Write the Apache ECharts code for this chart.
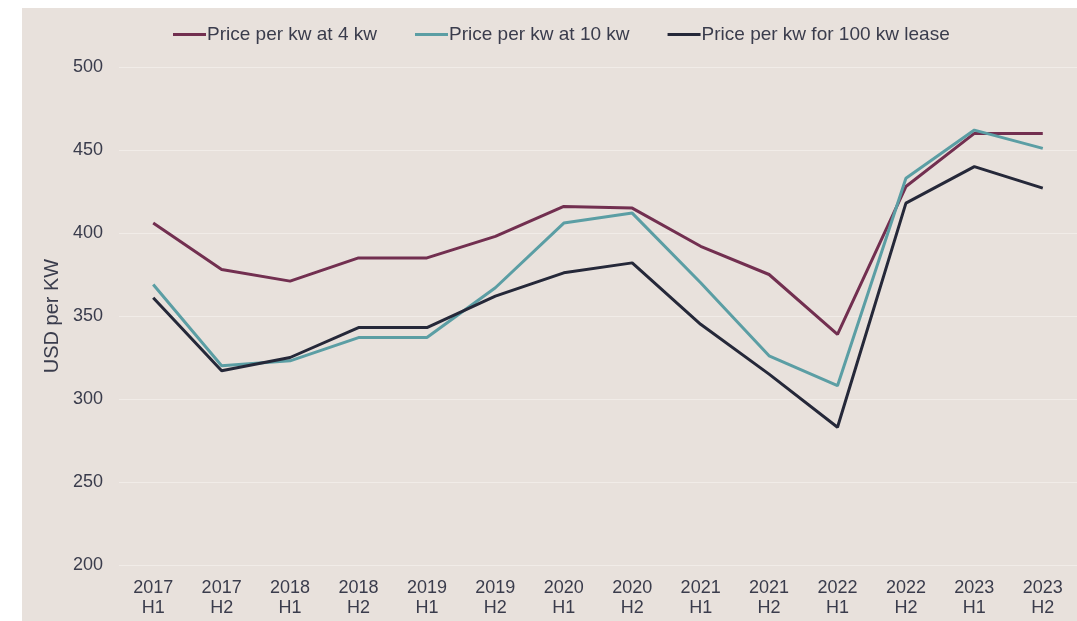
<!DOCTYPE html>
<html>
<head>
<meta charset="utf-8">
<script src="https://cdn.jsdelivr.net/npm/echarts@6/dist/echarts.min.js"></script>
<style>
  html, body { margin: 0; padding: 0; background: #ffffff; }
  #main { position: absolute; left: 22px; top: 8px; width: 1055px; height: 613px; }
</style>
</head>
<body>
<div id="main"></div>
<script>
var chartDom = document.getElementById("main");
var myChart = echarts.init(chartDom);
var option;

const categories = [
  "2017\nH1", "2017\nH2", "2018\nH1", "2018\nH2", "2019\nH1", "2019\nH2", "2020\nH1",
  "2020\nH2", "2021\nH1", "2021\nH2", "2022\nH1", "2022\nH2", "2023\nH1", "2023\nH2",
];
const price4kw = [406, 378, 371, 385, 385, 398, 416, 415, 392, 375, 339, 428, 460, 460];
const price10kw = [369, 320, 323, 337, 337, 367, 406, 412, 370, 326, 308, 433, 462, 451];
const price100kwLease = [361, 317, 325, 343, 343, 362, 376, 382, 345, 315, 283, 418, 440, 427];

const textColor = "#3a3c4c";
const font = "Liberation Sans, Arial, sans-serif";

function lineSeries(name, color, data) {
  return {
    name: name,
    type: "line",
    data: data,
    symbol: "none",
    lineStyle: { color: color, width: 3 },
    itemStyle: { color: color },
  };
}

option = {
  backgroundColor: "#e8e1dc",
  color: ["#722f50", "#5b9ea4", "#252839"],
  textStyle: { fontFamily: font },
  legend: {
    top: 12,
    left: 146,
    icon: "rect",
    itemWidth: 33,
    itemHeight: 3,
    itemGap: 38,
    textStyle: { color: textColor, fontSize: 19, fontFamily: font, padding: [0, 0, 0, -4] },
  },
  grid: { left: 97, right: 0, top: 59, bottom: 56, containLabel: false },
  xAxis: {
    type: "category",
    data: categories,
    axisLine: { show: false },
    axisTick: { show: false },
    axisLabel: { color: textColor, fontSize: 18, lineHeight: 20, margin: 13, fontFamily: font },
  },
  yAxis: {
    type: "value",
    min: 200,
    max: 500,
    interval: 50,
    name: "USD per KW",
    nameLocation: "middle",
    nameGap: 55,
    nameTextStyle: { color: textColor, fontSize: 20, fontFamily: font },
    axisLabel: { color: textColor, fontSize: 18, margin: 16, fontFamily: font },
    splitLine: { lineStyle: { color: "#f1ece8", width: 1 } },
  },
  series: [
    lineSeries("Price per kw at 4 kw", "#722f50", price4kw),
    lineSeries("Price per kw at 10 kw", "#5b9ea4", price10kw),
    lineSeries("Price per kw for 100 kw lease", "#252839", price100kwLease),
  ],
};

option && myChart.setOption(option);
</script>
</body>
</html>
